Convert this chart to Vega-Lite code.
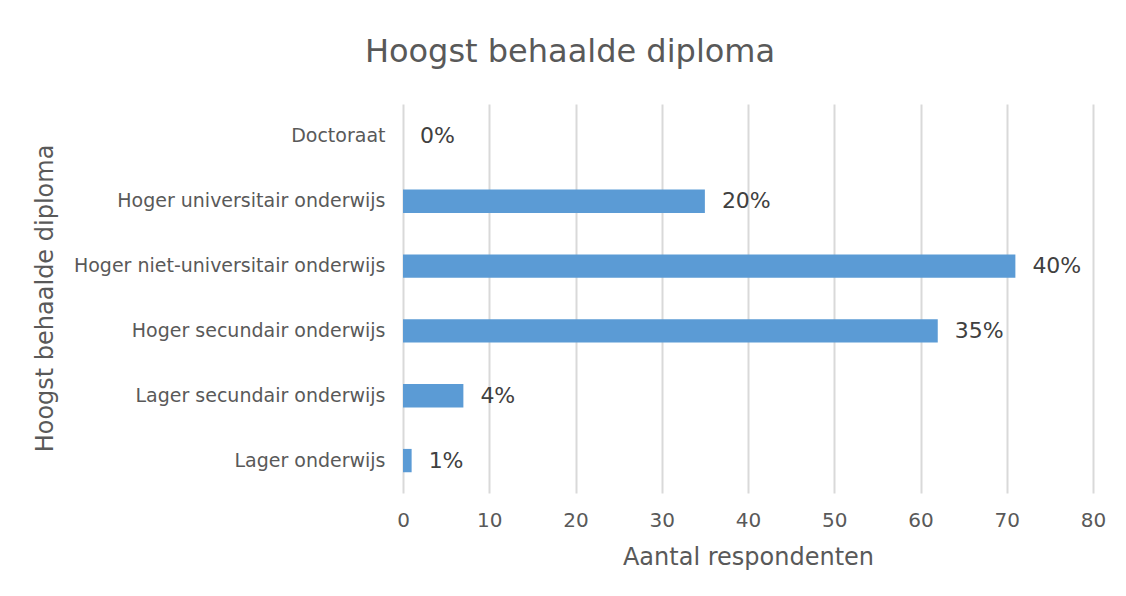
{
  "$schema": "https://vega.github.io/schema/vega-lite/v6.json",
  "width": 690,
  "height": 389,
  "autosize": {"type": "none"},
  "padding": {"left": 403, "top": 104, "right": 33, "bottom": 103},
  "background": "white",
  "title": {
    "text": "Hoogst behaalde diploma",
    "font": "DejaVu Sans",
    "fontSize": 32,
    "fontWeight": "normal",
    "color": "#595959",
    "anchor": "middle",
    "dx": -178,
    "offset": 35
  },
  "data": {
    "values": [
      {"diploma": "Doctoraat", "aantal": 0, "pct": "0%"},
      {"diploma": "Hoger universitair onderwijs", "aantal": 35, "pct": "20%"},
      {"diploma": "Hoger niet-universitair onderwijs", "aantal": 71, "pct": "40%"},
      {"diploma": "Hoger secundair onderwijs", "aantal": 62, "pct": "35%"},
      {"diploma": "Lager secundair onderwijs", "aantal": 7, "pct": "4%"},
      {"diploma": "Lager onderwijs", "aantal": 1, "pct": "1%"}
    ]
  },
  "encoding": {
    "y": {
      "field": "diploma",
      "type": "nominal",
      "sort": null,
      "scale": {"paddingInner": 0.64, "paddingOuter": 0.32},
      "axis": {
        "title": "Hoogst behaalde diploma",
        "titleFont": "DejaVu Sans",
        "titleFontSize": 24,
        "titleFontWeight": "normal",
        "titleColor": "#595959",
        "titleAngle": -90,
        "titleX": -358,
        "titleY": 194,
        "titleAlign": "center",
        "titleBaseline": "middle",
        "labelFont": "DejaVu Sans",
        "labelFontSize": 19,
        "labelColor": "#595959",
        "labelPadding": 18,
        "labelLimit": 0,
        "ticks": false,
        "domain": false,
        "grid": false
      }
    },
    "x": {
      "field": "aantal",
      "type": "quantitative",
      "scale": {"domain": [0, 80], "nice": false},
      "axis": {
        "title": "Aantal respondenten",
        "titleFont": "DejaVu Sans",
        "titleFontSize": 24,
        "titleFontWeight": "normal",
        "titleColor": "#595959",
        "titleY": 64,
        "titleBaseline": "middle",
        "values": [0, 10, 20, 30, 40, 50, 60, 70, 80],
        "labelFont": "DejaVu Sans",
        "labelFontSize": 20,
        "labelColor": "#595959",
        "labelPadding": 17,
        "labelFlush": false,
        "ticks": false,
        "domain": false,
        "grid": true,
        "gridColor": "#D9D9D9",
        "gridWidth": 2
      }
    }
  },
  "layer": [
    {"mark": {"type": "bar", "color": "#5B9BD5"}},
    {
      "mark": {"type": "text", "align": "left", "baseline": "middle", "dx": 17, "font": "DejaVu Sans", "fontSize": 22, "color": "#404040"},
      "encoding": {"text": {"field": "pct"}}
    }
  ],
  "config": {"view": {"stroke": null}}
}
